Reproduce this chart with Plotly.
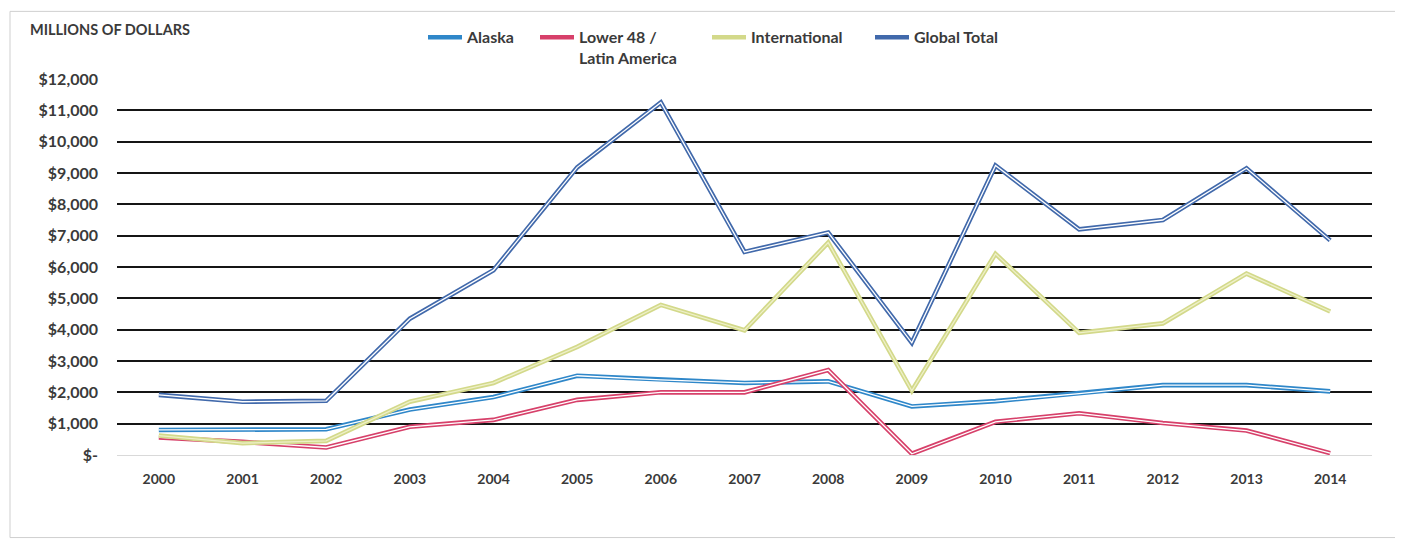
import plotly.graph_objects as go

years = [str(y) for y in range(2000, 2015)]
alaska = [800, 800, 820, 1450, 1850, 2530, 2400, 2300, 2350, 1550, 1720, 1960, 2230, 2230, 2030]
lower48 = [560, 420, 240, 900, 1120, 1760, 2000, 2000, 2710, 40, 1060, 1330, 1020, 780, 60]
international = [620, 380, 450, 1700, 2300, 3450, 4790, 3980, 6780, 2050, 6420, 3900, 4200, 5790, 4580]
global_total = [1920, 1700, 1730, 4350, 5900, 9180, 11250, 6480, 7100, 3580, 9240, 7200, 7500, 9150, 6850]

ytickvals = [0, 1000, 2000, 3000, 4000, 5000, 6000, 7000, 8000, 9000, 10000, 11000, 12000]
yticktext = ["$-", "$1,000", "$2,000", "$3,000", "$4,000", "$5,000", "$6,000",
             "$7,000", "$8,000", "$9,000", "$10,000", "$11,000", "$12,000"]

series = [
    ("Alaska", alaska, "#2f87c9", "white", "legend"),
    ("Lower 48 /<br>Latin America", lower48, "#d7406a", "white", "legend2"),
    ("International", international, "#d3d98a", "#eef0c8", "legend3"),
    ("Global Total", global_total, "#4169ab", "white", "legend4"),
]

fig = go.Figure()
for name, vals, col, inner, lg in series:
    fig.add_trace(go.Scatter(x=years, y=vals, mode="lines", name=name,
                             line=dict(color=col, width=4.6), legend=lg))
    fig.add_trace(go.Scatter(x=years, y=vals, mode="lines", showlegend=False,
                             hoverinfo="skip", line=dict(color=inner, width=1.3)))

FONT = "Lato"
TXT = "#3a3a3a"
W, H = 1395, 534
L, R, T, B = 109, 31, 69, 87
pw = W - L - R
ph = H - T - B

def px_x(x):
    return (x - L) / pw

def px_y(y):
    return (H - B - y) / ph

legend_common = dict(orientation="h", xanchor="left", yanchor="top",
                     font=dict(family=FONT, size=16, color=TXT, weight="bold"),
                     bgcolor="rgba(0,0,0,0)", tracegroupgap=0, itemwidth=34)

fig.update_layout(
    width=W, height=H,
    margin=dict(l=L, r=R, t=T, b=B),
    paper_bgcolor="white", plot_bgcolor="white",
    font=dict(family=FONT, color=TXT),
    title=dict(text="<b>MILLIONS OF DOLLARS</b>", x=22 / W, xanchor="left",
               y=1 - 22 / H, yanchor="middle", xref="container", yref="container",
               font=dict(family=FONT, size=14.5, color=TXT)),
    legend=dict(x=px_x(415), y=px_y(10), **legend_common),
    legend2=dict(x=px_x(527), y=px_y(10), valign="top", **legend_common),
    legend3=dict(x=px_x(699), y=px_y(10), **legend_common),
    legend4=dict(x=px_x(862), y=px_y(10), **legend_common),
    xaxis=dict(type="category", range=[-0.5, 14.5], showgrid=False, showline=False,
               ticks="", ticklabelstandoff=14,
               tickfont=dict(family=FONT, size=14, color=TXT, weight="bold")),
    yaxis=dict(range=[0, 12000], tickvals=ytickvals, ticktext=yticktext,
               showgrid=True, gridcolor="#151515", gridwidth=2,
               zeroline=True, zerolinecolor="#d9d9d9", zerolinewidth=1,
               showline=False, ticks="", ticklabelstandoff=18,
               tickfont=dict(family=FONT, size=16, color=TXT, weight="bold")),
    shapes=[dict(type="rect", xref="paper", yref="paper",
                 x0=px_x(2), x1=px_x(1389), y0=px_y(530), y1=px_y(1),
                 line=dict(color="#cfcfcf", width=1), fillcolor="rgba(0,0,0,0)",
                 layer="below")],
    showlegend=True,
)

fig.write_html("out.html")
